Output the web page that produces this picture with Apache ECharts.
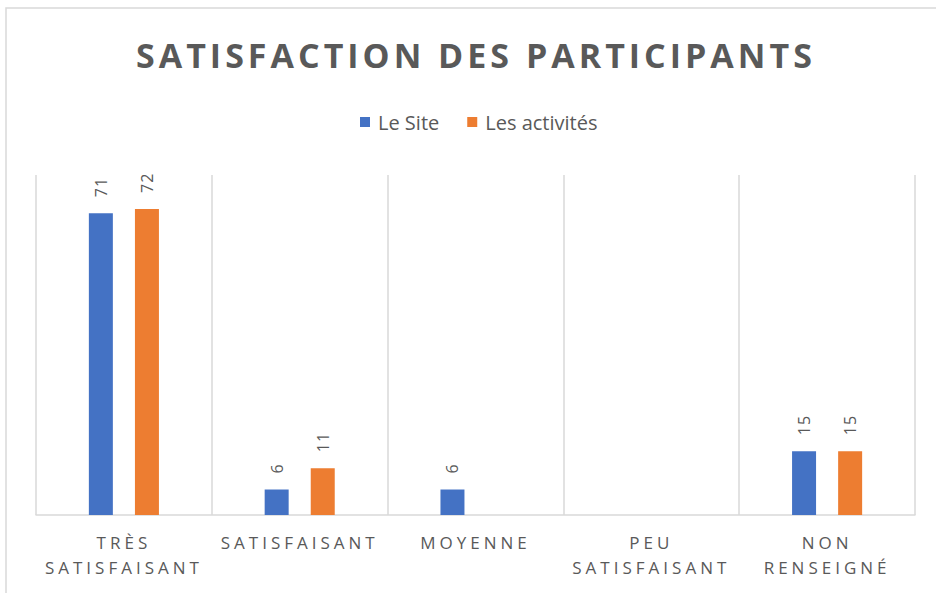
<!DOCTYPE html>
<html>
<head>
<meta charset="utf-8">
<script src="https://cdn.jsdelivr.net/npm/echarts@6/dist/echarts.min.js"></script>
<style>
  html, body { margin: 0; padding: 0; background: #fff; }
  #chart { width: 936px; height: 593px; }
  /* espacement des lettres comme dans Excel */
  #chart text[style*="34px"] { letter-spacing: 4px; }
  #chart text[style*="17px"] { letter-spacing: 4px; }
  #chart text[style*="16px"] { letter-spacing: 1px; }
</style>
</head>
<body>
<div id="chart"></div>
<script>
  // données
  const categories = ['TRÈS\nSATISFAISANT', 'SATISFAISANT', 'MOYENNE', 'PEU\nSATISFAISANT', 'NON\nRENSEIGNÉ'];
  const siteValues = [71, 6, 6, null, 15];
  const activitesValues = [72, 11, null, null, 15];
  const seriesNames = ['Le Site', 'Les activités'];

  const textColor = '#595959';
  const font = "'Open Sans', sans-serif";

  const chart = echarts.init(document.getElementById('chart'), null, { renderer: 'svg' });

  const labelOpt = {
    show: true,
    position: 'top',
    rotate: 90,
    align: 'left',
    verticalAlign: 'middle',
    distance: 16,
    color: textColor,
    fontSize: 16,
    fontFamily: font
  };

  const option = {
    animation: false,
    backgroundColor: '#fff',
    color: ['#4472C4', '#ED7D31'],
    title: {
      text: 'SATISFACTION DES PARTICIPANTS',
      left: 131,
      top: 33,
      padding: 5,
      textStyle: {
        color: textColor,
        fontSize: 34,
        fontWeight: 'bold',
        fontFamily: font
      }
    },
    legend: {
      top: 107,
      left: 355,
      padding: 5,
      icon: 'rect',
      itemWidth: 10,
      itemHeight: 10,
      itemGap: 28,
      textStyle: { color: textColor, fontSize: 20, fontFamily: font, padding: [0, 0, 0, 3] },
      data: seriesNames
    },
    grid: { left: 36, right: 21, top: 175, bottom: 78, containLabel: false },
    xAxis: {
      type: 'category',
      data: categories,
      axisLine: { lineStyle: { color: '#d9d9d9', width: 1.5 } },
      axisTick: { show: false },
      splitLine: { show: true, lineStyle: { color: '#d9d9d9', width: 1.5 } },
      axisLabel: {
        interval: 0,
        margin: 15,
        color: textColor,
        fontSize: 17,
        lineHeight: 25,
        fontFamily: font
      }
    },
    yAxis: {
      type: 'value',
      min: 0,
      max: 80,
      show: false,
      splitLine: { show: false }
    },
    graphic: [{
      type: 'rect',
      shape: { x: 6, y: 8, width: 1000, height: 1000 },
      style: { fill: 'none', stroke: '#d9d9d9', lineWidth: 1.5 },
      silent: true,
      z: -1
    }],
    series: [{
      name: seriesNames[0],
      type: 'bar',
      data: siteValues,
      barWidth: 24,
      barGap: '92%',
      label: labelOpt
    }, {
      name: seriesNames[1],
      type: 'bar',
      data: activitesValues,
      barWidth: 24,
      barGap: '92%',
      label: labelOpt
    }]
  };

  chart.setOption(option);
</script>
</body>
</html>
